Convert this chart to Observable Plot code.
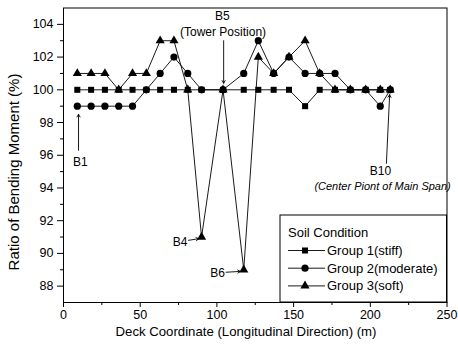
<!DOCTYPE html>
<html><head><meta charset="utf-8">
<script src="https://cdn.jsdelivr.net/npm/d3@7"></script>
<script src="https://cdn.jsdelivr.net/npm/@observablehq/plot@0.6"></script>
<style>
body{margin:0;background:#fff;}
#chart svg{display:block;}
</style></head><body><div id="chart"></div>
<script>
// Deck coordinate (m) of each node
const deckX = [9, 18, 27, 36, 45, 54, 63, 72, 81, 90, 104, 117.5, 127, 137, 147, 157.5, 167, 177, 187, 197, 206.5, 213];
// Ratio of bending moment (%)
const group1 = [100,100,100,100,100,100,100,100,100,100,100,100,100,100,100,99,100,100,100,100,100,100];
const group2 = [99,99,99,99,99,100,101,102,101,100,100,101,103,101,102,101,101,101,100,100,99,100];
const group3 = [101,101,101,100,101,101,103,103,100,91,100,89,102,101,102,103,101,100,100,100,100,100];
const seriesNames = ["Group 1(stiff)", "Group 2(moderate)", "Group 3(soft)"];
const seriesSymbols = ["square", "circle", "triangle"];
const legendTitle = "Soil Condition";
const xTicks = [0, 50, 100, 150, 200, 250];
const xMinorTicks = [25, 75, 125, 175, 225];
const yTicks = [88, 90, 92, 94, 96, 98, 100, 102, 104];
const yMinorTicks = [89, 91, 93, 95, 97, 99, 101, 103];
const xTitle = "Deck Coordinate (Longitudinal Direction) (m)";
const yTitle = "Ratio of Bending Moment (%)";
// annotation labels (data coordinates)
const annotLabels = ["B1", "B4", "B5", "(Tower Position)", "B6", "B10"];
const annotX = [11, 76, 103.6, 104, 100.4, 206.6];
const annotY = [95.6, 90.7, 104.5, 103.5, 88.8, 95.0];
const noteLabel = "(Center Piont of Main Span)";
const noteX = [208];
const noteY = [94.1];
// annotation arrows (data coordinates)
const arrowX1 = [9.8, 104.4, 81.5, 106, 210.5];
const arrowY1 = [96.3, 103.0, 90.8, 88.85, 95.5];
const arrowX2 = [9.8, 104.4, 88.2, 115.3, 212.6];
const arrowY2 = [98.5, 100.4, 90.9, 88.9, 99.7];

const seriesValues = [group1, group2, group3];
const rows = seriesValues.flatMap((vals, s) => vals.map((v, i) => ({x: deckX[i], y: v, series: seriesNames[s]})));
const annots = annotLabels.map((t, i) => ({t, x: annotX[i], y: annotY[i]}));
const notes = noteX.map((x, i) => ({t: noteLabel, x, y: noteY[i]}));
const arrows = arrowX1.map((x1, i) => ({x1, y1: arrowY1[i], x2: arrowX2[i], y2: arrowY2[i]}));
const radii = [3.4, 3.6, 3.4];

const font = "'Liberation Sans', Arial, Helvetica, sans-serif";
const plot = Plot.plot({
  width: 458, height: 347,
  marginLeft: 63, marginRight: 11.5, marginTop: 7.5, marginBottom: 45,
  style: {fontFamily: font, fontSize: "12px", color: "black", background: "white", overflow: "visible"},
  x: {domain: [0, 250]},
  y: {domain: [87, 105]},
  symbol: {domain: seriesNames, range: seriesSymbols},
  marks: [
    Plot.axisX({ticks: xTicks, tickSize: 5, tickPadding: 3, label: null, fontSize: 12.5}),
    Plot.axisX({ticks: xMinorTicks, tickSize: 3, text: null, label: null}),
    Plot.axisY({ticks: yTicks, tickSize: 6, tickPadding: 4, label: null, fontSize: 12.5}),
    Plot.axisY({ticks: yMinorTicks, tickSize: 3, text: null, label: null}),
    Plot.frame({stroke: "black", strokeWidth: 1}),
    Plot.line(rows, {x: "x", y: "y", z: "series", stroke: "black", strokeWidth: 0.9}),
    ...seriesNames.map((name, s) => Plot.dot(rows.filter(d => d.series === name), {x: "x", y: "y", symbol: "series", r: radii[s], fill: "black", stroke: "none"})),
    Plot.arrow(arrows, {x1: "x1", y1: "y1", x2: "x2", y2: "y2", stroke: "black", strokeWidth: 0.9, headLength: 5, bend: 0}),
    Plot.text(annots, {x: "x", y: "y", text: "t", fontSize: 12, fill: "black"}),
    Plot.text(notes, {x: "x", y: "y", text: "t", fontSize: 11, fontStyle: "italic", fill: "black"})
  ]
});

const svg = d3.select(plot);
// axis titles
svg.append("text").attr("x", 246).attr("y", 331).attr("dy", "0.35em")
  .attr("text-anchor", "middle").attr("font-family", font).attr("font-size", 13.2).attr("fill", "black").text(xTitle);
svg.append("text").attr("transform", "translate(14,172) rotate(-90)").attr("dy", "0.35em")
  .attr("text-anchor", "middle").attr("font-family", font).attr("font-size", 15).attr("fill", "black").text(yTitle);

// legend box inside the plot area
const lg = svg.append("g").attr("font-family", font).attr("fill", "black").attr("text-anchor", "start");
lg.append("rect").attr("x", 280).attr("y", 215).attr("width", 166.5).attr("height", 87)
  .attr("fill", "white").attr("stroke", "black");
lg.append("text").attr("x", 288).attr("y", 232).attr("dy", "0.35em").attr("font-size", 13).text(legendTitle);
seriesNames.forEach((name, i) => {
  const cy = 250.5 + i * 17.7;
  lg.append("line").attr("x1", 288).attr("x2", 325).attr("y1", cy).attr("y2", cy).attr("stroke", "black").attr("stroke-width", 0.9);
  const sym = d3.symbol().type([d3.symbolSquare, d3.symbolCircle, d3.symbolTriangle][i]).size(Math.PI * radii[i] * radii[i]);
  lg.append("path").attr("d", sym()).attr("transform", `translate(305,${cy})`).attr("fill", "black");
  lg.append("text").attr("x", 327).attr("y", cy).attr("dy", "0.35em").attr("font-size", 13).text(name);
});
document.getElementById("chart").appendChild(plot);
</script></body></html>
